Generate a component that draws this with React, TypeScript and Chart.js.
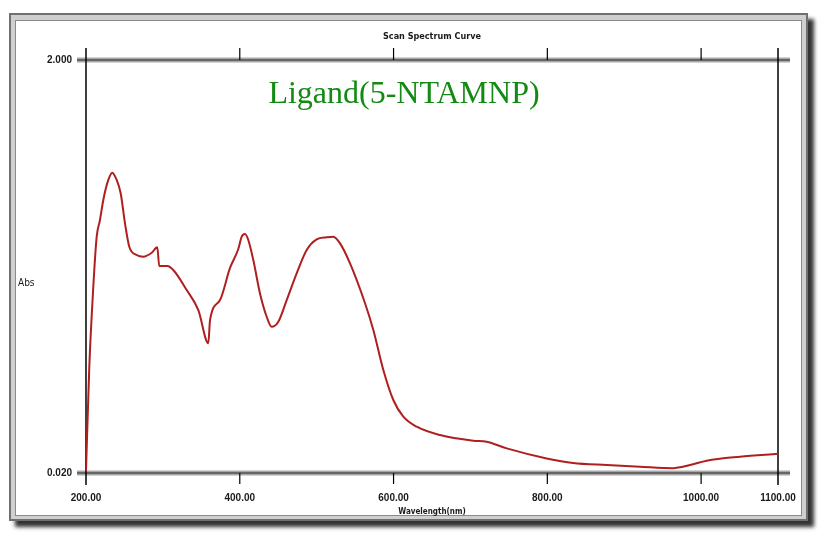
import React, { useEffect, useRef } from "react";
import { Chart, registerables } from "chart.js";

Chart.register(...registerables);

const wavelengths = [
  200, 204.3, 209.5, 213.9, 218.2, 222.5, 229.0, 234.2, 239.9, 245.1, 250.7, 256.3,
  265.9, 274.5, 285.5, 292.7, 295.3, 305.7, 313.5, 331.0, 346.1, 359.1, 361.3, 374.3,
  387.3, 398.1, 402.5, 406.8, 411.1, 417.6, 426.3, 435.0, 441.5, 450.1, 461.0, 474.0,
  487.0, 500.0, 513.1, 521.6, 530.4, 543.4, 562.9, 573.7, 586.7, 599.7, 612.7, 630.1,
  660.4, 703.7, 721.1, 747.2, 799.2, 833.4, 877.2, 920.5, 963.4, 985.5, 1007.3, 1050.6,
  1100,
];
const absorbance = [
  0.03, 0.53, 0.913, 1.153, 1.233, 1.329, 1.425, 1.46, 1.425, 1.361, 1.217, 1.105,
  1.065, 1.057, 1.076, 1.102, 1.012, 1.012, 0.993, 0.897, 0.801, 0.642, 0.753, 0.849,
  1.003, 1.094, 1.153, 1.166, 1.137, 1.041, 0.881, 0.769, 0.721, 0.745, 0.849, 0.977,
  1.089, 1.14, 1.15, 1.153, 1.121, 1.025, 0.834, 0.706, 0.514, 0.37, 0.29, 0.242,
  0.202, 0.175, 0.17, 0.138, 0.09, 0.068, 0.058, 0.05, 0.043, 0.058, 0.079, 0.098,
  0.112,
];
const xTickValues = [200, 400, 600, 800, 1000, 1100];
const topTickValues = [400, 600, 800, 1000];
const yTickValues = [0.02, 2.0];
const chartTitle = "Ligand(5-NTAMNP)";
const headerText = "Scan Spectrum Curve";
const xAxisTitle = "Wavelength(nm)";
const yAxisTitle = "Abs";

const narrow =
  "'Liberation Sans Narrow', 'DejaVu Sans Condensed', 'Liberation Sans', sans-serif";
const tickFont = "'Liberation Sans', Arial, sans-serif";

const framePlugin = {
  id: "frame",
  beforeDraw(chart: any) {
    const ctx = chart.ctx;
    ctx.save();
    ctx.fillStyle = "#ffffff";
    ctx.fillRect(0, 0, chart.width, chart.height);
    ctx.shadowColor = "rgba(0,0,0,0.8)";
    ctx.shadowBlur = 4;
    ctx.shadowOffsetX = 6;
    ctx.shadowOffsetY = 6;
    ctx.fillStyle = "#cfcfcf";
    ctx.fillRect(9, 13, 799, 508);
    ctx.shadowColor = "transparent";
    ctx.fillStyle = "#ffffff";
    ctx.fillRect(15, 20, 787, 496);
    ctx.strokeStyle = "#707070";
    ctx.lineWidth = 2;
    ctx.strokeRect(10, 14, 797, 506);
    ctx.strokeStyle = "#8a8a8a";
    ctx.lineWidth = 1;
    ctx.strokeRect(15.5, 20.5, 786, 495);
    ctx.restore();
  },
  beforeDatasetsDraw(chart: any) {
    const ctx = chart.ctx;
    const { left, right, top, bottom } = chart.chartArea;
    const xs = chart.scales.x;
    ctx.save();
    for (const y of [top, bottom]) {
      ctx.beginPath();
      ctx.moveTo(left - 9, y);
      ctx.lineTo(right + 12, y);
      ctx.strokeStyle = "#a8a8a8";
      ctx.lineWidth = 5;
      ctx.stroke();
      ctx.beginPath();
      ctx.moveTo(left - 9, y);
      ctx.lineTo(right + 12, y);
      ctx.strokeStyle = "#666666";
      ctx.lineWidth = 2;
      ctx.stroke();
    }
    ctx.strokeStyle = "#000000";
    ctx.lineWidth = 1.5;
    for (const x of [left, right]) {
      ctx.beginPath();
      ctx.moveTo(x, top - 12);
      ctx.lineTo(x, bottom + 12);
      ctx.stroke();
    }
    ctx.lineWidth = 1.2;
    for (const v of topTickValues) {
      const x = xs.getPixelForValue(v);
      ctx.beginPath();
      ctx.moveTo(x, top);
      ctx.lineTo(x, top - 12);
      ctx.stroke();
      ctx.beginPath();
      ctx.moveTo(x, bottom);
      ctx.lineTo(x, bottom + 11);
      ctx.stroke();
    }
    ctx.restore();
  },
  afterDraw(chart: any) {
    const ctx = chart.ctx;
    const { left, right, top, bottom } = chart.chartArea;
    const cx = (left + right) / 2;
    ctx.save();
    ctx.textAlign = "center";
    ctx.textBaseline = "middle";
    ctx.fillStyle = "#1a1a1a";
    ctx.font = `bold 9px ${narrow}`;
    ctx.fillText(headerText, cx, top - 23);
    ctx.font = `bold 8px ${narrow}`;
    ctx.fillText(xAxisTitle, cx, bottom + 39);
    ctx.textAlign = "left";
    ctx.font = `10px ${narrow}`;
    ctx.fillText(yAxisTitle, 18, 283);
    ctx.textAlign = "center";
    ctx.fillStyle = "#138a13";
    ctx.font = `32px 'Liberation Serif', 'DejaVu Serif', serif`;
    ctx.fillText(chartTitle, cx - 28, top + 35);
    ctx.restore();
  },
};

export default function App() {
  const ref = useRef<HTMLCanvasElement | null>(null);
  useEffect(() => {
    document.body.style.margin = "0";
    const canvas = ref.current;
    if (!canvas) return;
    const chart = new Chart(canvas, {
      type: "line",
      data: {
        datasets: [
          {
            data: wavelengths.map((w, i) => ({ x: w, y: absorbance[i] })),
            borderColor: "#b01f1f",
            borderWidth: 2,
            pointRadius: 0,
            cubicInterpolationMode: "monotone",
            fill: false,
          },
        ],
      },
      options: {
        responsive: false,
        animation: false,
        events: [],
        layout: { padding: { left: 26, right: 40, top: 60, bottom: 0 } },
        plugins: { legend: { display: false }, tooltip: { enabled: false } },
        scales: {
          x: {
            type: "linear",
            min: 200,
            max: 1100,
            grid: { display: false, drawTicks: false },
            border: { display: false },
            afterBuildTicks: (s: any) => {
              s.ticks = xTickValues.map((v) => ({ value: v }));
            },
            afterFit: (s: any) => {
              s.height = 60;
            },
            ticks: {
              padding: 19,
              maxRotation: 0,
              autoSkip: false,
              color: "#1a1a1a",
              font: { family: tickFont, size: 10, weight: "bold" },
              callback: (v: any) => Number(v).toFixed(2),
            },
          },
          y: {
            type: "linear",
            min: 0.02,
            max: 2.0,
            grid: { display: false, drawTicks: false },
            border: { display: false },
            afterBuildTicks: (s: any) => {
              s.ticks = yTickValues.map((v) => ({ value: v }));
            },
            afterFit: (s: any) => {
              s.width = 60;
            },
            ticks: {
              padding: 14,
              autoSkip: false,
              color: "#1a1a1a",
              font: { family: tickFont, size: 10, weight: "bold" },
              callback: (v: any) => Number(v).toFixed(3),
            },
          },
        },
      },
      plugins: [framePlugin],
    } as any);
    return () => chart.destroy();
  }, []);
  return (
    <div style={{ position: "absolute", left: 0, top: 0, width: 818, height: 533 }}>
      <canvas ref={ref} width={818} height={533} style={{ width: 818, height: 533, display: "block" }} />
    </div>
  );
}
